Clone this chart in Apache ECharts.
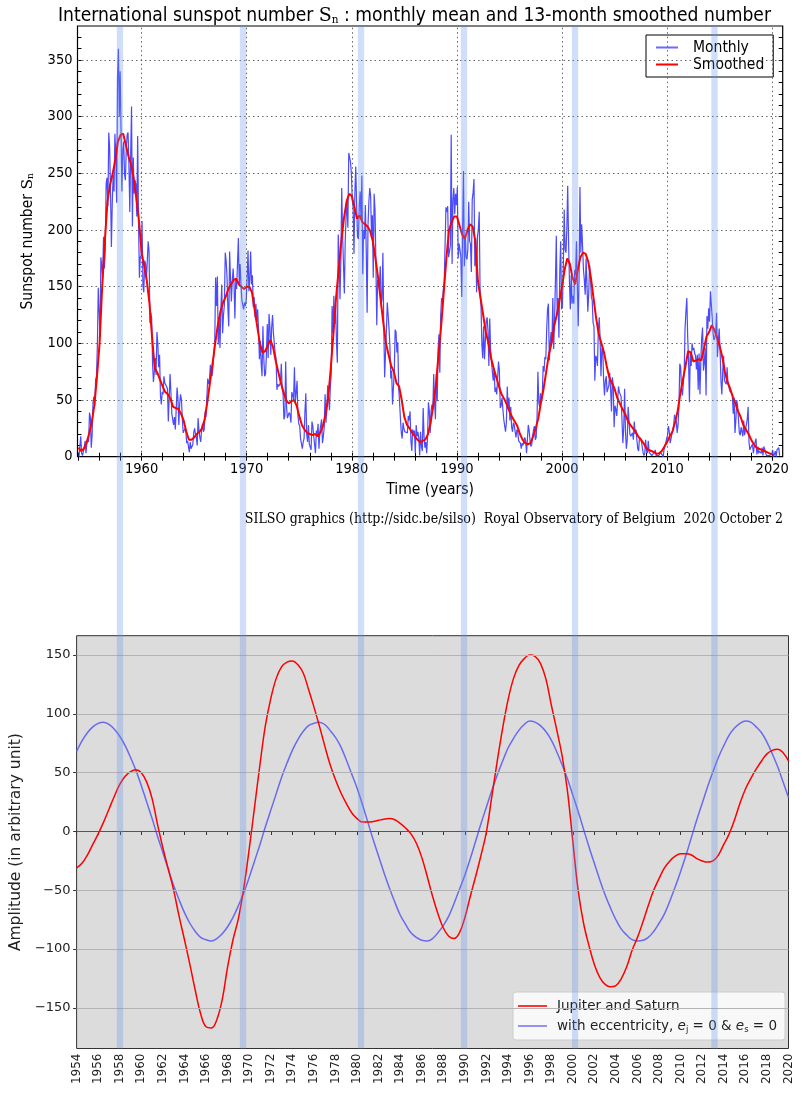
<!DOCTYPE html>
<html><head><meta charset="utf-8">
<script src="https://cdn.jsdelivr.net/npm/echarts@6/dist/echarts.min.js"></script>
<style>html,body{margin:0;padding:0;background:#fff}#c{width:802px;height:1093px}</style>
</head><body><div id="c"></div>
<script>
// ---------- Top chart data: monthly mean sunspot number (from Jan 1954) ----------
const monthlyStartYear = 1954;
const monthly1950s = [
 0,1,18,3,1,0,8,14,3,12,15,13,
 39,35,8,19,48,53,45,68,71,98,149,128,
 105,176,168,157,194,166,183,241,246,221,286,273,
 234,185,224,249,234,285,266,224,335,360,300,340,
 288,234,271,278,249,244,272,284,286,258,216,266,
 309,203,264,232,244,240,212,283,206,158,176,178];
const monthly1960s = [
 208,151,145,173,170,157,173,190,181,118,127,122,
 82,66,75,87,72,110,100,79,90,54,46,57,
 55,71,65,66,62,60,31,31,73,56,38,33,
 28,35,24,42,61,51,28,47,55,50,33,21,
 22,25,23,12,14,13,4,13,7,9,11,21,
 25,20,17,10,34,23,17,13,24,29,22,24,
 40,35,36,69,64,68,81,73,71,81,81,100,
 158,133,159,99,123,96,130,152,109,125,134,180,
 173,159,131,115,181,157,137,155,166,153,122,156,
 148,171,193,152,170,151,138,139,130,136,133,139];
const monthly1970s = [
 158,182,146,156,181,152,160,132,141,123,135,119,
 130,112,86,102,82,71,115,87,71,73,90,117,
 87,126,114,90,114,125,109,109,91,87,59,64,
 62,61,65,82,60,56,33,36,84,44,34,33,
 39,37,30,57,56,51,79,48,57,67,36,29,
 27,16,16,7,13,16,40,56,20,13,28,11,
 12,6,31,27,18,17,3,23,19,29,7,22,
 23,33,12,18,26,55,30,43,63,62,41,61,
 74,133,109,142,117,135,100,83,196,178,139,174,
 237,195,196,144,191,212,226,202,268,264,260,250];
const monthly1980s = [
 227,220,179,233,256,223,194,192,220,234,210,248,
 161,200,192,222,181,127,204,225,237,230,195,213,
 158,232,218,173,116,156,150,152,168,134,139,180,
 116,70,91,111,136,125,113,98,69,76,46,46,
 75,112,110,92,101,61,49,34,21,16,30,25,
 22,21,22,21,36,32,40,14,5,24,21,23,
 3,28,18,22,16,1,22,9,5,43,18,8,
 13,3,18,48,40,21,40,46,41,73,48,33,
 73,49,94,108,74,125,140,137,148,154,154,220,
 216,221,176,175,186,284,170,226,237,214,232,222];
const monthly1990s = [
 238,175,188,188,177,141,200,252,168,195,176,174,
 183,225,190,188,163,227,233,245,168,193,145,194,
 201,216,143,134,99,87,115,86,86,119,123,111,
 80,122,94,83,82,67,78,57,61,55,56,84,
 76,43,45,52,42,33,32,22,30,62,42,52,
 32,44,26,22,30,28,22,17,24,22,14,15,
 12,7,12,10,14,17,14,3,4,28,23,14,
 9,11,18,24,27,15,17,34,75,48,44,56,
 48,55,80,75,88,86,112,130,135,85,100,110,
 100,140,95,120,155,195,125,140,105,165,190,130];
const monthly2000s = [
 133,165,218,183,180,200,239,190,155,130,160,135,
 142,135,165,160,190,190,115,160,238,180,205,185,
 165,156,143,175,175,128,144,169,159,141,138,118,
 115,67,89,87,80,112,123,105,71,95,97,68,
 54,67,71,57,60,63,74,59,40,70,63,26,
 45,42,36,35,62,57,58,53,32,12,26,60,
 22,7,15,44,32,20,18,19,21,15,31,20,
 24,15,7,5,17,17,15,9,4,1,3,15,
 5,3,14,4,4,5,1,1,2,4,6,1,
 2,2,1,2,4,4,5,0,6,7,6,16];
const monthly2010s = [
 19,27,22,12,13,20,23,28,37,34,31,21,
 28,43,82,79,60,54,64,73,113,128,140,106,
 85,48,93,80,100,94,96,91,89,77,90,59,
 91,55,84,105,114,76,83,96,54,124,113,131,
 119,146,134,123,109,103,105,109,127,88,102,113,
 93,67,55,75,89,67,66,64,79,64,62,58,
 57,56,54,38,52,21,32,50,45,33,21,19,
 26,26,18,32,19,19,18,33,44,13,6,8,
 7,11,3,9,13,16,2,9,3,5,5,3,
 8,1,9,9,10,1,1,1,1,0,1,2];
const monthly2020s = [6,0,2,5,0,6,6,8,1];

// 13-month smoothed number, one value every quarter from 1954.0
const smoothedStartYear = 1954;
const smoothedQuarterly = [
 8,5,7,12, 20,30,45,70, 100,150,190,225, 240,250,262,278, 284,285,275,265,
 258,245,228,208, 180,168,155,135, 105,78,74,68, 62,57,55,51, 44,43,42,38,
 32,22,15,15, 17,20,22,25, 33,48,65,82, 100,116,128,136, 141,148,152,156,
 157,152,150,148, 150,150,145,130, 115,100,92,93, 98,103,97,85, 75,65,57,50,
 47,49,50,45, 36,28,24,21, 20,19,20,18, 21,27,37,52, 78,108,140,165,
 190,210,225,232, 230,220,210,213, 207,205,203,199, 190,175,158,138, 118,100,90,80,
 75,65,62,50, 35,28,25,21, 18,15,13,14, 15,20,30,45, 63,90,115,145,
 175,200,207,212, 212,204,196,192, 200,205,203,190, 155,140,125,110, 100,87,78,70,
 62,55,51,46, 40,35,31,27, 20,15,12,11, 12,18,25,34, 48,60,75,90,
 100,115,125,137, 150,165,175,170, 158,152,165,176, 180,179,172,158, 140,122,108,100,
 92,80,70,65, 60,52,47,42, 38,32,28,25, 22,18,15,12, 8,6,5,4,
 2.5,3,5,9, 13,18,22,30, 40,55,68,80, 93,92,84,85, 86,85,95,106,
 110,116,112,105, 98,88,75,66, 60,53,47,40, 35,28,24,20, 15,11,8,7,
 6,5,4,3, 2];

// ---------- Bottom chart data (half-year steps from 1954.0) ----------
const modelStartYear = 1954;
const jupiterSaturn = [
 -31,-27,-20,-11,-2,8,19,30,40,47,51,52.5,50,42,28,6,-14,-32,-50,-72,
 -92,-113,-135,-155,-166,-167,-160,-143,-115,-92,-74,-48,-15,21,57,90,113,130,140,144,
 145,142,135,121,106,90,73,57,44,33,24,16,11,8,8,8.5,9.5,10.5,11,10,
 7,3,-2,-10,-22,-38,-55,-70,-82,-89,-91,-86,-73,-55,-38,-20,0,30,60,88,
 112,130,141,147,150,149,143,130,108,87,65,35,-8,-50,-78,-97,-113,-124,-130,-132,
 -131,-125,-115,-101,-90,-77,-63,-50,-40,-31,-25,-21,-19,-19,-20,-23,-25,-26,-25,-20,
 -11,-2,10,24,36,45,53,60,66,69,70,67,60];
const eccentricityZero = [
 68,77,84,89,92,93,91,87,81,73,63,52,39,25,11,-4,-18,-32,-46,-58,-69,-78,-85,-90,-92,-93,
 -91,-87,-81,-73,-63,-52,-39,-25,-11,4,18,32,46,58,69,78,85,90,92,93,
 91,86,80,72,61,49,37,23,8,-7,-21,-35,-48,-60,-71,-79,-86,-90,-92.5,-93,
 -91,-86,-80,-72,-61,-49,-37,-23,-8,7,21,35,48,60,71,79,86,91,94,93,
 90,85,78,68,57,45,31,17,2,-13,-27,-41,-54,-65,-75,-83,-88,-92,-93,-92.5,
 -90,-85,-78,-70,-59,-47,-34,-20,-5,10,24,38,51,63,73,82,88,92,94,93,
 89,84,76,66,55,42,29];

// Highlight bands (years, on the top chart's time scale)
const bandYears = [[1957.64,1958.24],[1969.35,1969.95],[1980.58,1981.18],[1990.38,1990.98],[2000.94,2001.54],[2014.21,2014.81]];

// Tick labels
const topXLabels = [1960,1970,1980,1990,2000,2010,2020];
const topYLabels = [0,50,100,150,200,250,300,350];
const bottomYLabels = [-150,-100,-50,0,50,100,150];

// ---------- build ----------
const monthlyAll = [].concat(monthly1950s, monthly1960s, monthly1970s, monthly1980s, monthly1990s, monthly2000s, monthly2010s, monthly2020s);
const monthlyData = monthlyAll.map((v,i)=>[monthlyStartYear + (i+0.5)/12, v]);
const smoothedData = smoothedQuarterly.map((v,i)=>[smoothedStartYear + i*0.25, v]);
const jsData = jupiterSaturn.map((v,i)=>[modelStartYear + i*0.5, v]);
const eccData = eccentricityZero.map((v,i)=>[modelStartYear + i*0.5, v]);

const evenYears = []; for (let y=1954; y<=2020; y+=2) evenYears.push(y);
const tensY = []; for (let y=0; y<=370; y+=10) tensY.push(y);

const SANS_C = "'DejaVu Sans Condensed','Liberation Sans Narrow','DejaVu Sans',sans-serif";
const SANS = "'DejaVu Sans',sans-serif";
const SERIF_C = "'DejaVu Serif Condensed','Liberation Serif',serif";
const minus = v => (v < 0 ? '\u2212' + Math.abs(v) : String(v));

const TOP = {left:77.5, top:26, width:705.2, height:430.7};
const BOT = {left:75.7, top:635.7, width:712.8, height:412.8};
const TX = {min:1953.9, max:2021};

const chart = echarts.init(document.getElementById('c'), null, {renderer:'canvas'});
chart.setOption({
  animation:false,
  backgroundColor:'#fff',
  title:{
    text:'International sunspot number {s|S}{sub|n} : monthly mean and 13-month smoothed number',
    left:53, top:1,
    textStyle:{fontFamily:SANS_C, fontSize:19.1, fontWeight:'normal', color:'#000',
      rich:{s:{fontFamily:"'DejaVu Serif',serif", fontSize:19, color:'#000'},
            sub:{fontFamily:"'DejaVu Serif',serif", fontSize:10.5, color:'#000', padding:[9,0,0,0]}}}
  },
  grid:[
    Object.assign({show:true, borderColor:'#000', borderWidth:1.2, backgroundColor:'#fff'}, TOP),
    Object.assign({show:true, borderColor:'#333', borderWidth:1, backgroundColor:'#dcdcdc'}, BOT),
    {left:TOP.left, top:TOP.top, width:TOP.width, height:BOT.top+BOT.height-TOP.top, show:false}
  ],
  legend:[
    {data:[{name:'Monthly', icon:'rect'},{name:'Smoothed', icon:'rect'}], left:646, top:35, orient:'vertical', itemGap:0,
     itemWidth:22, itemHeight:2, padding:[4,9,4,10], borderColor:'#000', borderWidth:1, borderRadius:0,
     backgroundColor:'#fff', textStyle:{fontFamily:SANS_C, fontSize:15.5, color:'#000', padding:[0,0,0,10], lineHeight:17}},
    {data:[{name:'Jupiter and Saturn', icon:'rect'},{name:'ecc', icon:'rect'}], left:513, top:992, orient:'vertical', itemGap:6,
     itemWidth:29, itemHeight:1.6, padding:[7,8,6,5], borderColor:'#ccc', borderWidth:1, borderRadius:3,
     backgroundColor:'rgba(255,255,255,0.8)',
     formatter:n => n==='ecc' ? 'with eccentricity, {i|e}{sub|j} = 0 & {i|e}{sub|s} = 0' : n,
     textStyle:{fontFamily:SANS, fontSize:13.5, color:'#222', padding:[0,0,0,5],
       rich:{i:{fontFamily:SANS, fontStyle:'italic', fontSize:13.5, color:'#222'},
             sub:{fontFamily:SANS, fontSize:8.5, color:'#222', padding:[7,0,0,0]}}}}
  ],
  xAxis:[
    {gridIndex:0, type:'value', min:TX.min, max:TX.max, position:'bottom',
     name:'Time (years)', nameLocation:'middle', nameGap:25,
     nameTextStyle:{fontFamily:SANS_C, fontSize:15.5, color:'#000'},
     axisLine:{show:false}, splitLine:{show:false},
     axisTick:{show:true, inside:true, length:4, customValues:evenYears, lineStyle:{color:'#000'}},
     axisLabel:{customValues:topXLabels, formatter:v=>String(v), fontFamily:SANS_C, fontSize:14.5, color:'#000', margin:5}},
    {gridIndex:0, type:'value', min:TX.min, max:TX.max, position:'top',
     axisLine:{show:false}, splitLine:{show:false}, axisLabel:{show:false},
     axisTick:{show:true, inside:true, length:4, customValues:evenYears, lineStyle:{color:'#000'}}},
    {gridIndex:1, type:'value', min:1954, max:2020, interval:2, position:'bottom',
     axisLine:{show:false}, splitLine:{show:false},
     axisTick:{show:true, inside:false, length:3.5, lineStyle:{color:'#333'}},
     axisLabel:{rotate:90, formatter:v=>String(v), fontFamily:SANS, fontSize:12, color:'#222', margin:5}},
    {gridIndex:2, type:'value', min:TX.min, max:TX.max, show:false}
  ],
  yAxis:[
    {gridIndex:0, type:'value', min:0, max:380, position:'left',
     name:'Sunspot number {s|S}{sub|n}', nameLocation:'middle', nameGap:42,
     nameTextStyle:{fontFamily:SANS_C, fontSize:15.5, color:'#000',
       rich:{s:{fontFamily:"'DejaVu Serif',serif", fontSize:15.5, color:'#000'},
             sub:{fontFamily:"'DejaVu Serif',serif", fontSize:9, color:'#000', padding:[7,0,0,0]}}},
     axisLine:{show:false}, splitLine:{show:false},
     axisTick:{show:true, inside:true, length:4, customValues:tensY, lineStyle:{color:'#000'}},
     axisLabel:{customValues:topYLabels, fontFamily:SANS_C, fontSize:14.5, color:'#000', margin:5}},
    {gridIndex:0, type:'value', min:0, max:380, position:'right',
     axisLine:{show:false}, splitLine:{show:false}, axisLabel:{show:false},
     axisTick:{show:true, inside:true, length:4, customValues:tensY, lineStyle:{color:'#000'}}},
    {gridIndex:1, type:'value', min:-184.5, max:166.5, position:'left',
     name:'Amplitude (in arbitrary unit)', nameLocation:'middle', nameGap:44,
     nameTextStyle:{fontFamily:SANS, fontSize:15.5, color:'#222'},
     axisLine:{show:false}, splitLine:{show:false},
     axisTick:{show:true, inside:false, length:3.5, customValues:bottomYLabels, lineStyle:{color:'#333'}},
     axisLabel:{customValues:bottomYLabels, formatter:minus, fontFamily:SANS, fontSize:13, color:'#222', margin:6}},
    {gridIndex:2, type:'value', min:0, max:1, show:false}
  ],
  series:[
    {name:'gridTop', type:'line', xAxisIndex:0, yAxisIndex:0, data:[], z:1, silent:true,
     markLine:{silent:true, symbol:['none','none'], label:{show:false},
       lineStyle:{color:'#555', width:0.9, type:[1.5,3]},
       data: topXLabels.map(x=>({xAxis:x})).concat(topYLabels.filter(y=>y>0).map(y=>({yAxis:y})))}},
    {name:'Monthly', type:'line', xAxisIndex:0, yAxisIndex:0, data:monthlyData, symbol:'none',
     lineStyle:{color:'#4a4aff', width:1.2}, itemStyle:{color:'#6a6aff'}, z:3},
    {name:'Smoothed', type:'line', xAxisIndex:0, yAxisIndex:0, data:smoothedData, symbol:'none',
     lineStyle:{color:'#ff0000', width:2}, itemStyle:{color:'#ff0000'}, z:4},
    {name:'gridBottom', type:'line', xAxisIndex:2, yAxisIndex:2, data:[], z:1, silent:true,
     markLine:{silent:true, symbol:['none','none'], label:{show:false},
       data: bottomYLabels.map(y=>({yAxis:y, lineStyle:{color: y===0 ? '#555' : '#b4b4b4', width: y===0 ? 1.2 : 1, type:'solid'}}))}},
    {name:'ecc', type:'line', xAxisIndex:2, yAxisIndex:2, data:eccData, symbol:'none', smooth:0.4,
     lineStyle:{color:'#6a6af0', width:1.5}, itemStyle:{color:'#7a7af5'}, z:3},
    {name:'Jupiter and Saturn', type:'line', xAxisIndex:2, yAxisIndex:2, data:jsData, symbol:'none', smooth:0.4,
     lineStyle:{color:'#ff0000', width:1.5}, itemStyle:{color:'#ff0000'}, z:4},
    {name:'bands', type:'custom', xAxisIndex:3, yAxisIndex:3, data:bandYears, silent:true, clip:false, z:20,
     encode:{x:[0,1]},
     renderItem:(params, api)=>{
       const p0 = api.coord([api.value(0), 1]);
       const p1 = api.coord([api.value(1), 0]);
       return {type:'rect', shape:{x:p0[0], y:p0[1], width:p1[0]-p0[0], height:p1[1]-p0[1]},
               style:{fill:'rgba(100,145,240,0.3)'}};
     }}
  ],
  graphic:[
    {type:'text', right:19, top:512,
     style:{text:'SILSO graphics (http://sidc.be/silso)  Royal Observatory of Belgium  2020 October 2',
            font:"14px " + SERIF_C, fill:'#000'}}
  ]
});
</script></body></html>
